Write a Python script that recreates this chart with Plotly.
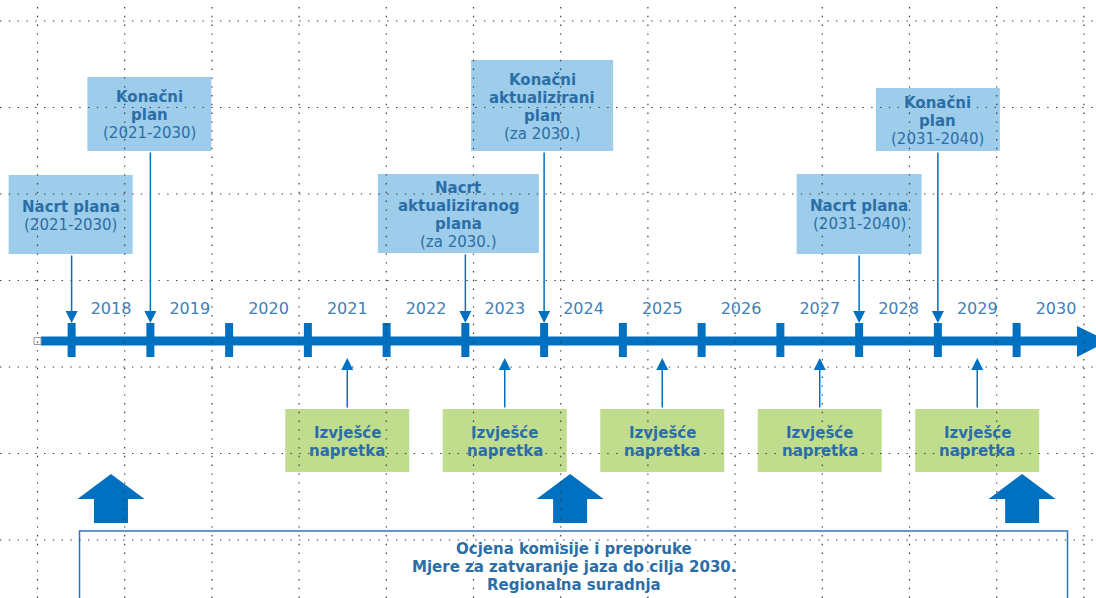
import plotly.graph_objects as go

# ------------------------------------------------------------------ data
years = list(range(2018, 2031))
tick_positions = [y - 0.5 for y in years]            # year boundaries 2017.5 .. 2029.5

top_labels = [
    ["<b>Nacrt plana</b>", "(2021-2030)"],
    ["<b>Konačni</b>", "<b>plan</b>", "(2021-2030)"],
    ["<b>Nacrt</b>", "<b>aktualiziranog</b>", "<b>plana</b>", "(za 2030.)"],
    ["<b>Konačni</b>", "<b>aktualizirani</b>", "<b>plan</b>", "(za 2030.)"],
    ["<b>Nacrt plana</b>", "(2031-2040)"],
    ["<b>Konačni</b>", "<b>plan</b>", "(2031-2040)"],
]
top_years = [2017.5, 2018.5, 2022.5, 2023.5, 2027.5, 2028.5]

report_years = [2021, 2023, 2025, 2027, 2029]
report_label = ["<b>Izvješće</b>", "<b>napretka</b>"]

review_years = [2018.0, 2023.83, 2029.57]
review_text = ["<b>Ocjena komisije i preporuke</b>",
               "<b>Mjere za zatvaranje jaza do cilja 2030.</b>",
               "<b>Regionalna suradnja</b>"]

# ------------------------------------------------------------------ layout constants (pixels)
W, H = 1096, 598
PX_PER_YEAR = 78.75
REF_YEAR, REF_PX = 2018, 111.0
LINE_H = 18


def px2x(p):
    return REF_YEAR + (p - REF_PX) / PX_PER_YEAR


def dx(p):
    return p / PX_PER_YEAR


X_LEFT, X_RIGHT = px2x(0), px2x(W)

BLUE = "#0070c0"
BOX_BLUE = "#9dcdea"
BOX_GREEN = "#c0dd8e"
TXT = "#2b6ea7"
YEAR_TXT = "#3f80b8"
FONT = "DejaVu Sans, Verdana, sans-serif"
TXT_SIZE = 15

# top boxes geometry: width, top, bottom, centre offset (px)
top_w = [124, 124, 161, 142, 125, 124]
top_t = [175, 77, 174, 60, 174, 88]
top_b = [254, 151, 253, 151, 254, 151]
top_off = [-1, -1, -7, -2, 0, 0]

BAR_Y, BAR_H = 341, 9
TICK_TOP, TICK_BOT, TICK_W = 323, 357, 8

REP_W, REP_T, REP_B = 124, 409, 472

shapes = []
annotations = []


def add_lines(lines, x, yc):
    n = len(lines)
    for i, ln in enumerate(lines):
        annotations.append(dict(x=x, y=yc + (i - (n - 1) / 2) * LINE_H, xref="x", yref="y", text=ln,
                                showarrow=False, font=dict(family=FONT, size=TXT_SIZE, color=TXT),
                                align="center"))


# --- top boxes + connectors
for lab, yr, w, t, b, off in zip(top_labels, top_years, top_w, top_t, top_b, top_off):
    cx = yr + dx(off)
    shapes.append(dict(type="rect", xref="x", yref="y", x0=cx - dx(w / 2), x1=cx + dx(w / 2),
                       y0=t, y1=b, fillcolor=BOX_BLUE, line=dict(width=0), layer="below"))
    add_lines(lab, cx, (t + b) / 2 + 1)
    annotations.append(dict(x=yr, y=TICK_TOP, ax=yr, ay=b, xref="x", yref="y", axref="x", ayref="y",
                            text="", showarrow=True, arrowhead=2, arrowsize=1.6, arrowwidth=1.5,
                            arrowcolor=BLUE, standoff=0, startstandoff=0))

# --- report boxes + connectors
for yr in report_years:
    shapes.append(dict(type="rect", xref="x", yref="y", x0=yr - dx(REP_W / 2), x1=yr + dx(REP_W / 2),
                       y0=REP_T, y1=REP_B, fillcolor=BOX_GREEN, line=dict(width=0), layer="below"))
    add_lines(report_label, yr, (REP_T + REP_B) / 2 + 1)
    annotations.append(dict(x=yr, y=TICK_BOT + 1, ax=yr, ay=REP_T, xref="x", yref="y", axref="x", ayref="y",
                            text="", showarrow=True, arrowhead=2, arrowsize=1.6, arrowwidth=1.5,
                            arrowcolor=BLUE, standoff=0, startstandoff=0))

# --- timeline bar, ticks and arrow head
shapes.append(dict(type="rect", xref="x", yref="y", x0=px2x(41), x1=px2x(1080),
                   y0=BAR_Y - BAR_H / 2, y1=BAR_Y + BAR_H / 2, fillcolor=BLUE, line=dict(width=0)))
for tp in tick_positions:
    shapes.append(dict(type="rect", xref="x", yref="y", x0=tp - dx(TICK_W / 2), x1=tp + dx(TICK_W / 2),
                       y0=TICK_TOP, y1=TICK_BOT, fillcolor=BLUE, line=dict(width=0)))
shapes.append(dict(type="path", xref="x", yref="y",
                   path=f"M {px2x(1077)},326 L {px2x(1108)},{BAR_Y} L {px2x(1077)},357 Z",
                   fillcolor=BLUE, line=dict(width=0)))
shapes.append(dict(type="rect", xref="x", yref="y", x0=px2x(34), x1=px2x(41), y0=337.5, y1=344.5,
                   fillcolor="white", line=dict(color="#9a9a9a", width=1)))

# --- big review arrows
for yr in review_years:
    hw, sw = dx(33.5), dx(17)
    p = (f"M {yr},474 L {yr + hw},499 L {yr + sw},499 L {yr + sw},523 "
         f"L {yr - sw},523 L {yr - sw},499 L {yr - hw},499 Z")
    shapes.append(dict(type="path", xref="x", yref="y", path=p, fillcolor=BLUE, line=dict(width=0)))

# --- bottom frame
shapes.append(dict(type="path", xref="x", yref="y",
                   path=f"M {px2x(79.5)},640 L {px2x(79.5)},531 L {px2x(1067.5)},531 L {px2x(1067.5)},640",
                   line=dict(color="#2e75b6", width=1.5)))
add_lines(review_text, px2x(573.5), 567)

# --- dotted slide grid (on top)
GRID = dict(color="#3a3a3a", width=1.2, dash="1.4px,7.4px")
for i in range(13):
    gx = (37.5 + 87.2 * i) / W
    shapes.append(dict(type="line", xref="paper", yref="paper", x0=gx, x1=gx, y0=0, y1=1,
                       line=GRID, layer="above"))
for j in range(7):
    gy = 1 - (21 + 86.5 * j) / H
    shapes.append(dict(type="line", xref="paper", yref="paper", x0=0, x1=1, y0=gy, y1=gy,
                       line=GRID, layer="above"))

fig = go.Figure()
fig.add_trace(go.Scatter(x=years, y=[310] * len(years), mode="text", text=[str(y) for y in years],
                         textfont=dict(family=FONT, size=16, color=YEAR_TXT), hoverinfo="skip",
                         showlegend=False))

fig.update_layout(
    width=W, height=H, margin=dict(l=0, r=0, t=0, b=0),
    paper_bgcolor="white", plot_bgcolor="white",
    xaxis=dict(range=[X_LEFT, X_RIGHT], visible=False, fixedrange=True),
    yaxis=dict(range=[H, 0], visible=False, fixedrange=True),
    shapes=shapes, annotations=annotations, showlegend=False,
)

fig.write_html("out.html", config={"displayModeBar": False},
               post_script="document.body.style.margin='0';")
